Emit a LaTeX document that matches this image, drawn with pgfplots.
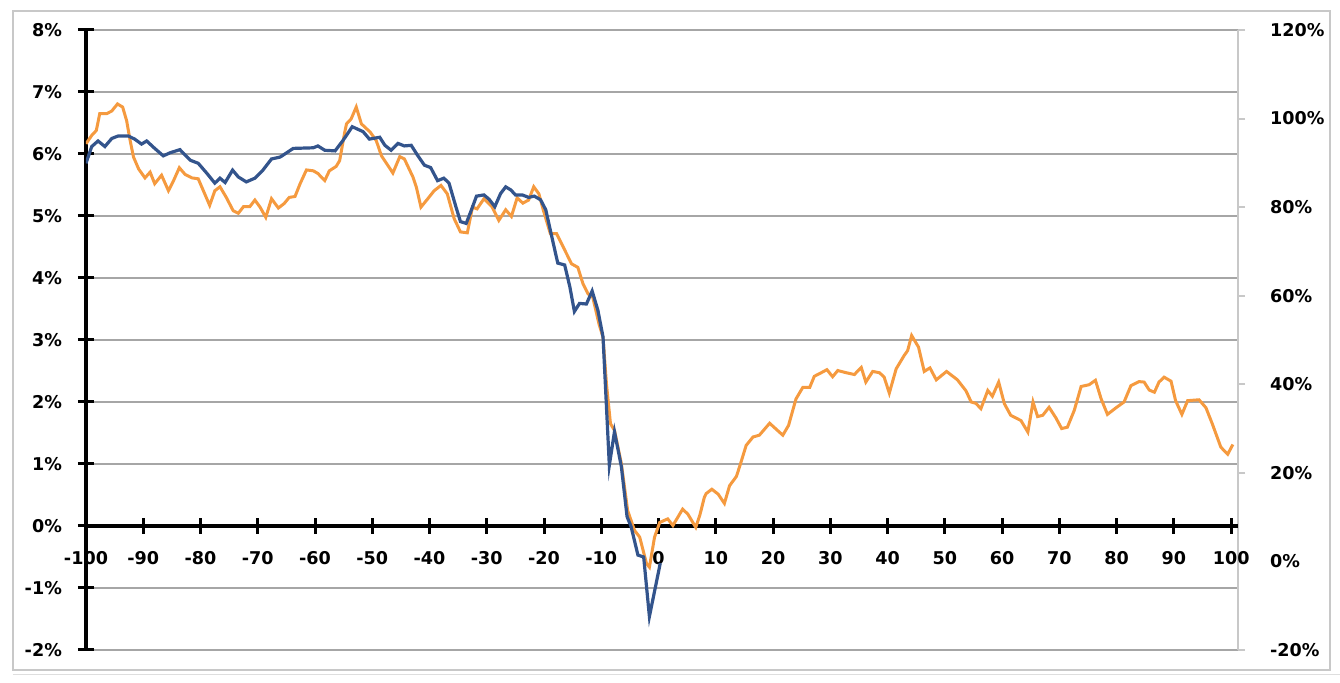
\documentclass[border=0pt]{standalone}
\usepackage{fontspec}
\setmainfont{DejaVu Sans}
\usepackage{pgfplots}
\pgfplotsset{compat=1.18}
\definecolor{cblue}{HTML}{33548C}
\definecolor{corange}{HTML}{F59A3F}
\definecolor{cgrid}{HTML}{A6A6A6}
\definecolor{cframe}{HTML}{C8C8C8}
\begin{document}
\begin{tikzpicture}
\draw[cframe, line width=0.8pt] (-36.5pt,-10pt) rectangle (622pt,319.5pt);
\draw[cframe!60, line width=0.6pt] (-36.5pt,-12.2pt) -- (628pt,-12.2pt);
\pgfplotsset{common/.style={set layers, scale only axis, width=576pt, height=310pt,
  xmin=-100, xmax=101.2, at={(0,0)}, anchor=south west,
  ticklabel style={font=\bfseries\fontsize{8.8}{10}\selectfont},
  /pgf/number format/assume math mode=true}}
% right axis (orange)
\begin{axis}[common, axis x line=none, axis y line*=right,
  ymin=-20, ymax=120, ytick={-20,0,...,120},
  yticklabel={\pgfmathprintnumber{\tick}\%},
  yticklabel style={xshift=9pt},
  tick align=outside, major tick length=3.5pt,
  axis line style={cframe, line width=1pt},
  ytick style={cframe, line width=1pt}]
\addplot[corange, line width=1.5pt] coordinates {
(-100,94.3) (-99,96.2) (-98.2,97.3) (-97.6,101.1) (-96.4,101.1) (-95.5,101.7)
(-94.5,103.3) (-93.6,102.6) (-92.9,99.5) (-92.3,95.1) (-91.7,91.3) (-90.8,88.6)
(-89.7,86.6) (-88.8,87.9) (-88.0,85.3) (-86.8,87.2) (-85.6,83.7) (-84.7,86.0)
(-83.7,88.9) (-82.7,87.4) (-81.5,86.6) (-80.4,86.4) (-79.5,83.7) (-78.4,80.4)
(-77.5,83.7) (-76.6,84.6) (-75.5,82.2) (-74.3,79.2) (-73.4,78.6) (-72.5,80.1)
(-71.4,80.1) (-70.5,81.6) (-69.6,80.0) (-68.6,77.7) (-67.6,81.9) (-66.4,79.8)
(-65.4,80.8) (-64.5,82.2) (-63.5,82.4) (-62.6,85.3) (-61.5,88.4) (-60.3,88.2)
(-59.5,87.6) (-58.3,86.0) (-57.5,88.2) (-56.3,89.2) (-55.7,90.5) (-54.8,97.0)
(-54.5,98.8) (-53.7,99.9) (-52.8,102.6) (-51.9,98.8) (-51.0,97.7) (-50.4,97.0)
(-49.3,95.0) (-48.4,91.6) (-46.4,87.7) (-45.2,91.4) (-44.4,90.9) (-42.9,86.8)
(-42.3,84.5) (-41.5,80.0) (-40.3,81.9) (-39.2,83.7) (-38.0,84.9) (-36.9,83.0)
(-35.7,77.4) (-34.6,74.4) (-33.4,74.2) (-32.5,80.0) (-31.7,79.6) (-30.5,81.9)
(-29.1,80.1) (-27.9,77.0) (-26.7,79.4) (-25.7,77.9) (-24.7,82.1) (-23.7,80.9)
(-22.7,81.6) (-21.8,84.6) (-20.9,83.0) (-20.1,79.2) (-18.9,74.0) (-17.8,74.0)
(-16.5,70.6) (-15.2,67.2) (-14.1,66.4) (-13.2,62.7) (-12.3,60.4) (-11.5,59.7)
(-10.4,53.6) (-9.7,50.6) (-9.1,40.1) (-8.4,31.1) (-7.7,29.6) (-6.5,22.1)
(-5.4,11.5) (-4.2,7.0) (-3.3,5.5) (-2.1,-0.5) (-1.6,-1.3) (-0.7,5.5)
(0.2,8.8) (1.6,9.6) (2.5,8.1) (4.2,11.8) (5.1,10.7) (6.5,7.7)
(7.2,10.4) (8.0,14.5) (8.3,15.3) (9.3,16.3) (10.4,15.2) (11.5,13.1)
(12.4,17.1) (13.6,19.2) (14.3,22.0) (15.3,26.2) (16.5,28.1) (17.6,28.5)
(19.4,31.2) (20.5,29.9) (21.7,28.5) (22.7,30.7) (24.0,36.7) (25.2,39.3)
(26.4,39.3) (27.2,41.8) (28.4,42.6) (29.4,43.3) (30.4,41.7) (31.3,43.1)
(32.8,42.6) (34.2,42.2) (35.4,43.8) (36.2,40.5) (37.4,42.9) (38.6,42.6)
(39.4,41.6) (40.3,38.0) (41.5,43.5) (42.9,46.5) (43.5,47.6) (44.2,51.0)
(45.4,48.4) (46.4,42.9) (47.4,43.7) (48.5,41.0) (50.3,42.9) (52.2,41.0)
(53.7,38.5) (54.6,36.0) (55.4,35.7) (56.3,34.5) (57.5,38.6) (58.3,37.3)
(59.4,40.5) (60.4,35.6) (61.5,33.0) (63.3,31.8) (64.5,29.2) (65.4,36.0)
(66.2,32.7) (67.1,33.0) (68.2,34.8) (69.4,32.4) (70.4,30.0) (71.4,30.3)
(72.6,34.1) (73.8,39.5) (75.2,39.9) (76.3,40.9) (77.3,36.7) (78.4,33.2)
(79.9,34.7) (81.3,36.0) (82.5,39.7) (83.9,40.6) (84.8,40.5) (85.7,38.7)
(86.6,38.2) (87.4,40.5) (88.3,41.6) (89.5,40.7) (90.3,36.3) (91.4,33.2)
(92.4,36.3) (94.4,36.5) (95.6,34.7) (96.7,31.1) (98.2,25.8) (99.4,24.2)
(100.3,26.4)
};
\end{axis}
% left axis (blue)
\begin{axis}[common, axis x line*=middle, axis y line*=left,
  ymin=-2, ymax=8, ytick={-2,...,8}, xtick={-100,-90,...,100},
  ymajorgrids, grid style={cgrid, line width=0.6pt},
  hide obscured x ticks=false, hide obscured y ticks=false,
  axis line style={black, line width=2pt},
  tick style={black, line width=1.5pt}, tick align=center, major tick length=8pt,
  yticklabel={\pgfmathprintnumber{\tick}\%},
  yticklabel style={xshift=-4.5pt},
  xticklabel style={yshift=-5pt}]
\addplot[cblue, line width=1.6pt] coordinates {
(-100,5.85) (-99,6.12) (-97.9,6.21) (-96.7,6.12) (-95.5,6.25) (-94.4,6.29)
(-92.6,6.29) (-91.5,6.24) (-90.3,6.16) (-89.4,6.21) (-88,6.09) (-86.5,5.97)
(-85.3,6.02) (-83.6,6.07) (-81.8,5.90) (-80.4,5.85) (-78.9,5.69) (-77.5,5.53)
(-76.6,5.61) (-75.7,5.54) (-74.4,5.74) (-73.4,5.63) (-72,5.55) (-70.5,5.61)
(-69.1,5.74) (-67.6,5.92) (-66.1,5.95) (-63.8,6.09) (-60.3,6.10) (-59.5,6.13)
(-58.3,6.06) (-56.5,6.05) (-55.1,6.22) (-53.5,6.44) (-51.6,6.36) (-50.5,6.24)
(-48.7,6.27) (-47.8,6.14) (-46.7,6.06) (-45.5,6.17) (-44.4,6.13) (-43.2,6.14)
(-42.1,5.98) (-40.9,5.82) (-39.8,5.78) (-38.6,5.57) (-37.5,5.61) (-36.6,5.53)
(-35.4,5.15) (-34.6,4.91) (-33.6,4.88) (-32.8,5.07) (-31.8,5.32) (-30.5,5.34)
(-29.6,5.27) (-28.6,5.15) (-27.6,5.36) (-26.7,5.47) (-25.8,5.42) (-25.0,5.34)
(-23.8,5.34) (-22.7,5.30) (-21.7,5.32) (-20.6,5.26) (-19.7,5.10) (-18.9,4.77)
(-18.0,4.40) (-17.6,4.24) (-16.4,4.21) (-15.5,3.86) (-14.7,3.46) (-13.8,3.59)
(-12.6,3.58) (-11.6,3.79) (-10.6,3.48) (-9.7,3.05) (-9.3,2.30) (-8.6,0.98)
(-7.7,1.52) (-6.5,0.96) (-5.5,0.15) (-4.8,-0.01) (-3.6,-0.47) (-2.6,-0.50)
(-1.6,-1.46) (0.3,-0.60)
};
\end{axis}
\pgfresetboundingbox
\useasboundingbox (-43pt,-16.5pt) rectangle (627pt,325pt);
\end{tikzpicture}
\end{document}
